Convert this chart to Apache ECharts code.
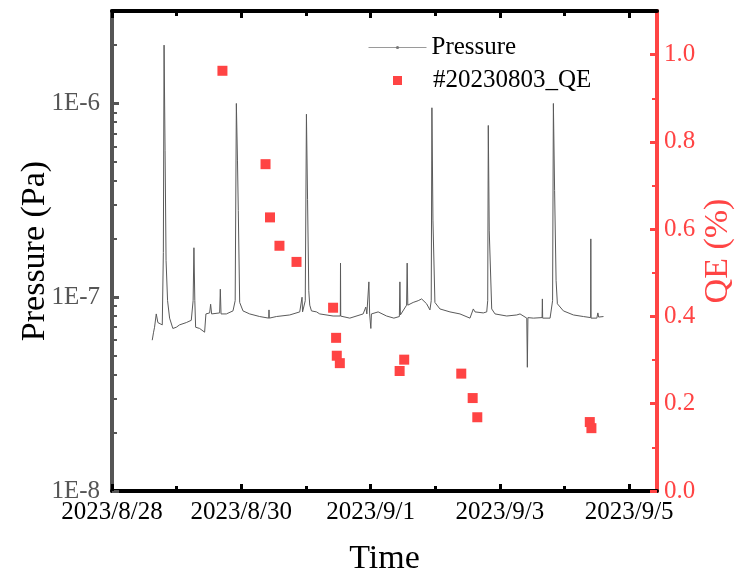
<!DOCTYPE html>
<html>
<head>
<meta charset="utf-8">
<script src="https://cdn.jsdelivr.net/npm/echarts@6/dist/echarts.min.js"></script>
<style>html,body{margin:0;padding:0;background:#fff}#c{width:743px;height:577px}</style>
</head>
<body>
<div id="c"></div>
<script>
// ---- data ----
const xTickLabels = ['2023/8/28', '2023/8/30', '2023/9/1', '2023/9/3', '2023/9/5'];
const xMajorDays = [0, 2, 4, 6, 8];
const xMinorDays = [1, 3, 5, 7];
const xEnd = '09-05 10:20';

const pressureTimes = [
 '08-28 14:56','08-28 15:26','08-28 15:48','08-28 16:26','08-28 17:02','08-28 17:50','08-28 18:40','08-28 19:04','08-28 19:20','08-28 19:42',
 '08-28 20:04','08-28 20:38','08-28 21:23','08-28 22:36','08-28 23:52','08-29 01:05','08-29 03:35','08-29 05:26','08-29 06:07','08-29 06:25',
 '08-29 06:45','08-29 07:03','08-29 08:32','08-29 10:23','08-29 10:41','08-29 10:52','08-29 12:15','08-29 12:37','08-29 12:59','08-29 15:58',
 '08-29 16:13','08-29 16:29','08-29 18:27','08-29 20:55','08-29 21:44','08-29 22:10','08-29 22:35','08-29 22:53','08-29 23:24','08-30 00:38',
 '08-30 03:07','08-30 06:50','08-30 10:11','08-30 10:17','08-30 10:24','08-30 13:02','08-30 17:59','08-30 21:42','08-30 22:33','08-30 22:45',
 '08-30 23:45','08-31 00:11','08-31 00:36','08-31 01:03','08-31 01:25','08-31 02:03','08-31 03:55','08-31 05:08','08-31 10:05','08-31 12:46',
 '08-31 12:50','08-31 12:55','08-31 16:17','08-31 21:14','08-31 22:14','08-31 22:37','08-31 23:22','08-31 23:39','09-01 00:06','09-01 00:19',
 '09-01 02:49','09-01 05:56','09-01 08:39','09-01 10:41','09-01 10:53','09-01 11:04','09-01 11:31','09-01 13:22','09-01 13:35','09-01 13:49',
 '09-01 15:49','09-01 17:41','09-01 18:57','09-01 20:48','09-01 22:02','09-01 22:31','09-01 22:46','09-01 23:09','09-01 23:53','09-02 01:45',
 '09-02 05:28','09-02 09:11','09-02 12:54','09-02 14:08','09-02 14:46','09-02 17:51','09-02 19:07','09-02 19:29','09-02 19:42','09-02 20:03',
 '09-02 20:58','09-02 22:12','09-03 02:33','09-03 06:16','09-03 07:29','09-03 09:59','09-03 10:12','09-03 10:25','09-03 12:26','09-03 15:40',
 '09-03 15:47','09-03 15:53','09-03 18:38','09-03 19:34','09-03 19:52','09-03 20:19','09-03 20:52','09-03 21:21','09-03 23:35','09-04 03:18',
 '09-04 07:01','09-04 09:42','09-04 09:46','09-04 09:51','09-04 12:00','09-04 12:23','09-04 12:40','09-04 14:28'
];
const pressureValues = [
 6.0e-8,6.6e-8,7.0e-8,8.2e-8,7.4e-8,7.3e-8,7.2e-8,1.7e-7,2.0e-6,5.7e-7,
 1.55e-7,9.6e-8,7.8e-8,6.9e-8,7.0e-8,7.2e-8,7.4e-8,7.6e-8,9.6e-8,1.8e-7,
 9.6e-8,7.0e-8,6.9e-8,6.6e-8,6.6e-8,8.2e-8,8.3e-8,9.2e-8,8.2e-8,8.3e-8,
 1.1e-7,8.2e-8,8.2e-8,8.5e-8,9.6e-8,1.0e-6,5.1e-7,2.8e-7,9.4e-8,8.5e-8,
 8.2e-8,7.95e-8,7.8e-8,8.6e-8,7.8e-8,7.95e-8,8.1e-8,8.4e-8,1.0e-7,8.4e-8,
 9.6e-8,8.8e-7,3.2e-7,1.08e-7,9.1e-8,8.5e-8,8.4e-8,8.2e-8,8.0e-8,8.0e-8,
 1.5e-7,7.99e-8,7.8e-8,8.2e-8,8.9e-8,8.2e-8,1.2e-7,8.2e-8,6.9e-8,8.2e-8,
 8.4e-8,8.0e-8,7.8e-8,7.95e-8,1.2e-7,8.1e-8,8.2e-8,9.1e-8,1.5e-7,9.1e-8,
 9.4e-8,9.6e-8,9.8e-8,9.25e-8,8.6e-8,9.6e-8,9.5e-7,2.5e-7,9.4e-8,8.7e-8,
 8.4e-8,8.2e-8,7.8e-8,8.7e-8,8.4e-8,8.3e-8,8.4e-8,9.6e-8,7.7e-7,2.2e-7,
 8.7e-8,8.2e-8,8.0e-8,8.1e-8,8.2e-8,7.8e-8,4.35e-8,7.85e-8,7.8e-8,7.85e-8,
 9.8e-8,7.8e-8,7.8e-8,9.6e-8,1.0e-6,3.56e-7,1.22e-7,9.25e-8,8.5e-8,8.1e-8,
 7.95e-8,7.85e-8,2.0e-7,7.8e-8,7.8e-8,8.3e-8,7.9e-8,7.95e-8
];

const qeTimes = ['08-29 17:00','08-30 09:00','08-30 10:40','08-30 14:10','08-30 20:30','08-31 10:05','08-31 11:12','08-31 11:27',
 '08-31 12:35','09-01 10:47','09-01 12:29','09-02 09:40','09-02 13:54','09-02 15:37','09-04 09:23','09-04 09:59'];
const qeValues = [0.963,0.749,0.627,0.562,0.525,0.420,0.351,0.310,0.293,0.275,0.301,0.269,0.213,0.169,0.158,0.144];

const pDecades = [1e-8, 1e-7, 1e-6];
const pMinor = [2e-8,3e-8,4e-8,5e-8,6e-8,7e-8,8e-8,9e-8,2e-7,3e-7,4e-7,5e-7,6e-7,7e-7,8e-7,9e-7,2e-6];
const qeMajor = [0, 0.2, 0.4, 0.6, 0.8, 1.0];
const qeMinor = [0.1, 0.3, 0.5, 0.7, 0.9];

// ---- helpers ----
const T0 = Date.UTC(2023, 7, 28, 0, 0);
function toDays(s) {
  const m = s.match(/(\d+)-(\d+) (\d+):(\d+)/);
  return (Date.UTC(2023, +m[1] - 1, +m[2], +m[3], +m[4]) - T0) / 86400000;
}
const xMax = toDays(xEnd);
const pData = pressureTimes.map((t, i) => [toDays(t), pressureValues[i]]);
const qData = qeTimes.map((t, i) => [toDays(t), qeValues[i]]);

const FONT = 'Liberation Serif';
const RED = '#ff4444';
const GRAY = '#555555';
const LINE = '#5a5a5a';

const chart = echarts.init(document.getElementById('c'), null, {renderer: 'canvas'});
const hiddenLabel = {show: false};
chart.setOption({
  animation: false,
  backgroundColor: '#fff',
  grid: {left: 112, right: 86, top: 11, bottom: 86, containLabel: false, outerBoundsMode: 'none'},
  legend: [
    {data: ['Pressure'], left: 363, top: 30, itemWidth: 58, itemHeight: 4,
     lineStyle: {color: '#9a9a9a', width: 1}, itemStyle: {color: '#777', borderWidth: 0},
     textStyle: {fontFamily: FONT, fontSize: 25, color: '#000'}},
    {data: ['#20230803_QE'], left: 388, top: 63, itemWidth: 9, itemHeight: 9, icon: 'rect',
     itemStyle: {color: RED, opacity: 1},
     textStyle: {fontFamily: FONT, fontSize: 25, color: '#000', padding: [0, 0, 0, 26]}}
  ],
  xAxis: [
    {type: 'value', position: 'bottom', min: 0, max: xMax, gridIndex: 0,
     name: 'Time', nameLocation: 'middle', nameGap: 51, nameMoveOverlap: false,
     nameTextStyle: {fontFamily: FONT, fontSize: 34, color: '#000'},
     axisLine: {show: true, onZero: false, lineStyle: {color: '#000', width: 4}},
     axisTick: {show: true, inside: true, length: 7, customValues: xMajorDays, lineStyle: {color: '#000', width: 3}},
     axisLabel: {show: true, customValues: xMajorDays, margin: 9, fontFamily: FONT, fontSize: 25, color: '#000',
       formatter: v => xTickLabels[Math.round(v / 2)]},
     splitLine: {show: false}},
    {type: 'value', position: 'bottom', min: 0, max: xMax,
     axisLine: {show: false, onZero: false},
     axisTick: {show: true, inside: true, length: 5, customValues: xMinorDays, lineStyle: {color: '#000', width: 3}},
     axisLabel: hiddenLabel, splitLine: {show: false}},
    {type: 'value', position: 'top', min: 0, max: xMax,
     axisLine: {show: true, onZero: false, lineStyle: {color: '#000', width: 4}},
     axisTick: {show: true, inside: true, length: 7, customValues: xMajorDays, lineStyle: {color: '#000', width: 3}},
     axisLabel: hiddenLabel, splitLine: {show: false}},
    {type: 'value', position: 'top', min: 0, max: xMax,
     axisLine: {show: false, onZero: false},
     axisTick: {show: true, inside: true, length: 5, customValues: xMinorDays, lineStyle: {color: '#000', width: 3}},
     axisLabel: hiddenLabel, splitLine: {show: false}}
  ],
  yAxis: [
    {type: 'log', position: 'left', min: 1e-8, max: 3e-6, logBase: 10,
     name: 'Pressure (Pa)', nameLocation: 'middle', nameGap: 60, nameMoveOverlap: false,
     nameTextStyle: {fontFamily: FONT, fontSize: 34, color: '#000'},
     axisLine: {show: true, onZero: false, lineStyle: {color: GRAY, width: 4}},
     axisTick: {show: true, inside: true, length: 7, customValues: pDecades, lineStyle: {color: GRAY, width: 3}},
     axisLabel: {show: true, customValues: pDecades, margin: 12, fontFamily: FONT, fontSize: 25, color: GRAY,
       formatter: v => '1E' + Math.round(Math.log10(v))},
     splitLine: {show: false}},
    {type: 'log', position: 'left', min: 1e-8, max: 3e-6, logBase: 10,
     axisLine: {show: false, onZero: false},
     axisTick: {show: true, inside: true, length: 5, customValues: pMinor, lineStyle: {color: GRAY, width: 2}},
     axisLabel: hiddenLabel, splitLine: {show: false}},
    {type: 'value', position: 'right', min: 0, max: 1.1,
     name: 'QE (%)', nameLocation: 'middle', nameGap: 44, nameMoveOverlap: false,
     nameTextStyle: {fontFamily: FONT, fontSize: 34, color: RED},
     axisLine: {show: true, onZero: false, lineStyle: {color: RED, width: 4}},
     axisTick: {show: true, inside: true, length: 7, customValues: qeMajor, lineStyle: {color: RED, width: 3}},
     axisLabel: {show: true, customValues: qeMajor, margin: 7, fontFamily: FONT, fontSize: 25, color: RED,
       formatter: v => v.toFixed(1)},
     splitLine: {show: false}},
    {type: 'value', position: 'right', min: 0, max: 1.1,
     axisLine: {show: false, onZero: false},
     axisTick: {show: true, inside: true, length: 5, customValues: qeMinor, lineStyle: {color: RED, width: 2}},
     axisLabel: hiddenLabel, splitLine: {show: false}}
  ],
  series: [
    {name: 'Pressure', type: 'line', xAxisIndex: 0, yAxisIndex: 0, data: pData,
     showSymbol: false, symbol: 'circle', symbolSize: 2, sampling: null,
     lineStyle: {color: LINE, width: 1}, itemStyle: {color: LINE}, z: 2},
    {name: '#20230803_QE', type: 'scatter', xAxisIndex: 0, yAxisIndex: 2, data: qData,
     symbol: 'rect', symbolSize: 10, itemStyle: {color: RED, opacity: 1}, z: 3}
  ]
});
</script>
</body>
</html>
